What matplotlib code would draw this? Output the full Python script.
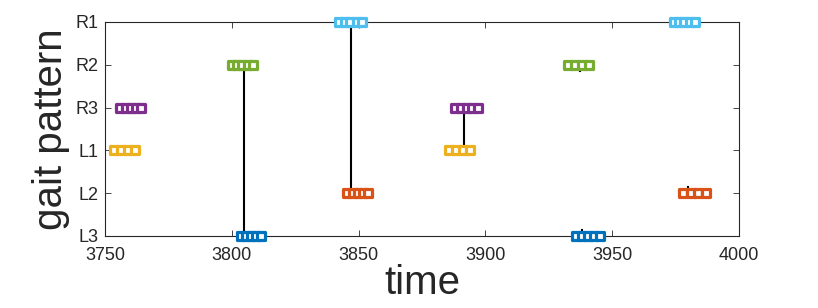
import matplotlib
matplotlib.use("Agg")
import matplotlib.pyplot as plt
from matplotlib.markers import MarkerStyle

plt.rcParams['font.family'] = ['Liberation Sans', 'DejaVu Sans']

# categories (bottom to top)
legs = ["L3", "L2", "L1", "R3", "R2", "R1"]
leg_colors = {"L3": "#0072BD", "L2": "#D95319", "L1": "#EDB120",
              "R3": "#7E2F8E", "R2": "#77AC30", "R1": "#4DBEEE"}

# stance phase sample times per leg (two stance phases each)
L1_times = [[3753.7, 3756.5, 3759.2, 3762.0], [3885.5, 3888.4, 3891.2, 3894.1]]
R3_times = [[3756.0, 3758.1, 3760.2, 3762.2, 3764.3], [3888.2, 3890.4, 3892.6, 3894.7, 3896.9]]
R2_times = [[3800.0, 3802.1, 3804.2, 3806.2, 3808.3], [3932.4, 3935.3, 3938.1, 3941.0]]
L3_times = [[3803.7, 3805.7, 3807.7, 3809.7, 3811.7], [3935.9, 3938.2, 3940.5, 3942.7, 3945.0]]
R1_times = [[3842.1, 3844.5, 3846.8, 3849.2, 3851.5], [3974.2, 3976.4, 3978.5, 3980.7, 3982.8]]
L2_times = [[3845.6, 3847.7, 3849.8, 3851.8, 3853.9], [3978.1, 3981.0, 3983.9, 3986.8]]

leg_times = {"L1": L1_times, "R3": R3_times, "R2": R2_times,
             "L3": L3_times, "R1": R1_times, "L2": L2_times}

# coordination links (x, from level, to level)
link_x = [3804.8, 3847.0, 3891.5, 3937.3, 3938.0, 3979.8]
link_y0 = [1, 2, 3, 5, 1, 2]
link_y1 = [5, 6, 4, 4.85, 1.15, 2.15]

x_ticks = [3750, 3800, 3850, 3900, 3950, 4000]

fig = plt.figure(figsize=(8.18, 3.08), dpi=100)
ax = fig.add_axes([105/818, 1 - 236/308, 634/818, 214/308])

for x, y0, y1 in zip(link_x, link_y0, link_y1):
    ax.plot([x, x], [y0, y1], color="black", lw=1.5, zorder=2, clip_on=False)

ms = MarkerStyle('s', joinstyle='round')
for leg, phases in leg_times.items():
    level = legs.index(leg) + 1
    for ph in phases:
        for t in ph:
            ax.plot([t], [level], linestyle='none', marker=ms, markersize=5.6,
                    markerfacecolor='white', markeredgecolor=leg_colors[leg],
                    markeredgewidth=2.3, zorder=3, clip_on=False)

ax.set_xlim(3750, 4000)
ax.set_ylim(1, 6)
ax.set_xticks(x_ticks)
ax.set_yticks(range(1, 7))
ax.set_yticklabels(legs)
ax.tick_params(direction='in', top=True, right=True, length=4, width=0.6,
               labelsize=13, colors='#262626')
ax.tick_params(axis='x', pad=8)
ax.tick_params(axis='y', pad=5)
for s in ax.spines.values():
    s.set_linewidth(0.8)
    s.set_color('#262626')

ax.set_xlabel("time", fontsize=29, color='#262626', labelpad=0)
ax.set_ylabel("gait pattern", fontsize=29, color='#262626', labelpad=4)

fig.savefig("out.png", dpi=100)
